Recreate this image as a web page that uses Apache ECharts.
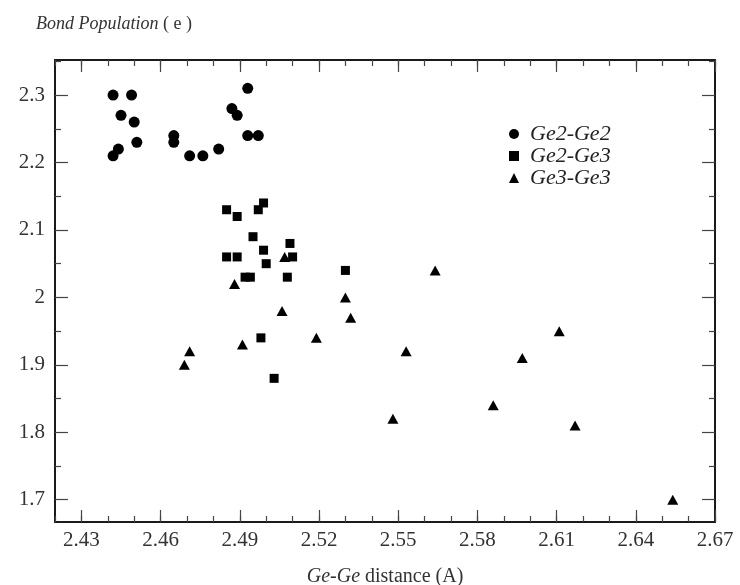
<!DOCTYPE html>
<html>
<head>
<meta charset="utf-8">
<script src="https://cdn.jsdelivr.net/npm/echarts@6/dist/echarts.min.js"></script>
<style>
  html, body { margin: 0; padding: 0; background: #fff; }
  #chart { width: 740px; height: 585px; }
</style>
</head>
<body>
<div id="chart"></div>
<script>
// 資料 (distance, bond population)
const ge2ge2 = [
  [2.442, 2.30], [2.449, 2.30], [2.445, 2.27], [2.450, 2.26], [2.451, 2.23],
  [2.444, 2.22], [2.442, 2.21], [2.465, 2.24], [2.465, 2.23], [2.471, 2.21],
  [2.476, 2.21], [2.482, 2.22], [2.487, 2.28], [2.489, 2.27], [2.493, 2.31],
  [2.493, 2.24], [2.497, 2.24]
]
const ge2ge3 = [
  [2.485, 2.13], [2.489, 2.12], [2.497, 2.13], [2.499, 2.14], [2.495, 2.09],
  [2.485, 2.06], [2.489, 2.06], [2.499, 2.07], [2.500, 2.05], [2.509, 2.08],
  [2.510, 2.06], [2.492, 2.03], [2.494, 2.03], [2.508, 2.03], [2.498, 1.94],
  [2.503, 1.88], [2.530, 2.04]
]
const ge3ge3 = [
  [2.507, 2.06], [2.488, 2.02], [2.506, 1.98], [2.519, 1.94], [2.491, 1.93],
  [2.471, 1.92], [2.469, 1.90], [2.530, 2.00], [2.532, 1.97], [2.564, 2.04],
  [2.553, 1.92], [2.611, 1.95], [2.597, 1.91], [2.586, 1.84], [2.617, 1.81],
  [2.654, 1.70], [2.548, 1.82]
]
const xLabels = [2.43, 2.46, 2.49, 2.52, 2.55, 2.58, 2.61, 2.64, 2.67]
const xMinor = [2.42, 2.43, 2.44, 2.45, 2.46, 2.47, 2.48, 2.49, 2.50, 2.51, 2.52, 2.53,
  2.54, 2.55, 2.56, 2.57, 2.58, 2.59, 2.60, 2.61, 2.62, 2.63, 2.64, 2.65, 2.66, 2.67]
const yLabels = [1.7, 1.8, 1.9, 2.0, 2.1, 2.2, 2.3]
const yMinor = [1.75, 1.85, 1.95, 2.05, 2.15, 2.25, 2.35]

const font = "'Liberation Serif', 'Times New Roman', serif"
const frameColor = '#1a1a1a'
const textColor = '#333'

// 主刻度 + 次刻度 軸設定
function xAx(position, major, withLabel) {
  return {
    type: 'value', position: position, min: 2.42, max: 2.67,
    axisLine: { show: major, lineStyle: { color: frameColor, width: 2 } },
    axisTick: {
      show: true, inside: true, length: major ? 12 : 6,
      customValues: major ? xLabels : xMinor,
      lineStyle: { color: '#444', width: 1.2 }
    },
    axisLabel: {
      show: withLabel, customValues: xLabels, margin: 8,
      fontFamily: font, fontSize: 21, color: textColor
    },
    splitLine: { show: false },
    name: withLabel ? '{i|Ge-Ge}{n| distance (A)}' : '',
    nameLocation: 'middle', nameGap: 45,
    nameTextStyle: {
      fontFamily: font, fontSize: 20, color: textColor,
      rich: {
        i: { fontFamily: font, fontSize: 20, fontStyle: 'italic', color: textColor },
        n: { fontFamily: font, fontSize: 20, color: textColor }
      }
    }
  }
}
function yAx(position, major, withLabel) {
  return {
    type: 'value', position: position, min: 1.667, max: 2.352,
    axisLine: { show: major, lineStyle: { color: frameColor, width: 2 } },
    axisTick: {
      show: true, inside: true, length: major ? 13 : 6,
      customValues: major ? yLabels : yMinor,
      lineStyle: { color: '#444', width: 1.2 }
    },
    axisLabel: {
      show: withLabel, customValues: yLabels, margin: 10,
      fontFamily: font, fontSize: 21, color: textColor
    },
    splitLine: { show: false }
  }
}

const chart = echarts.init(document.getElementById('chart'))
chart.setOption({
  backgroundColor: '#fff',
  animation: false,
  title: {
    text: '{i|Bond Population}{n| ( e )}',
    left: 31, top: 10,
    textStyle: {
      fontFamily: font, fontSize: 18, fontWeight: 'normal', color: textColor,
      rich: {
        i: { fontFamily: font, fontSize: 18, fontStyle: 'italic', color: textColor },
        n: { fontFamily: font, fontSize: 18, color: textColor }
      }
    }
  },
  legend: {
    orient: 'vertical', left: 504, top: 118,
    itemWidth: 10, itemHeight: 10, itemGap: 0,
    textStyle: { fontFamily: font, fontSize: 22, fontStyle: 'italic', color: '#222', padding: [0, 0, 0, 6] },
    data: ['Ge2-Ge2', 'Ge2-Ge3', 'Ge3-Ge3']
  },
  grid: { left: 55, right: 25, top: 60, bottom: 63, outerBoundsMode: 'none', containLabel: false },
  xAxis: [xAx('bottom', true, true), xAx('bottom', false, false), xAx('top', true, false), xAx('top', false, false)],
  yAxis: [yAx('left', true, true), yAx('left', false, false), yAx('right', true, false), yAx('right', false, false)],
  series: [
    { name: 'Ge2-Ge2', type: 'scatter', symbol: 'circle', symbolSize: 11, data: ge2ge2, itemStyle: { color: '#000', opacity: 1 } },
    { name: 'Ge2-Ge3', type: 'scatter', symbol: 'rect', symbolSize: 9, data: ge2ge3, itemStyle: { color: '#000', opacity: 1 } },
    { name: 'Ge3-Ge3', type: 'scatter', symbol: 'triangle', symbolSize: [11, 10], data: ge3ge3, itemStyle: { color: '#000', opacity: 1 } }
  ]
})
</script>
</body>
</html>
